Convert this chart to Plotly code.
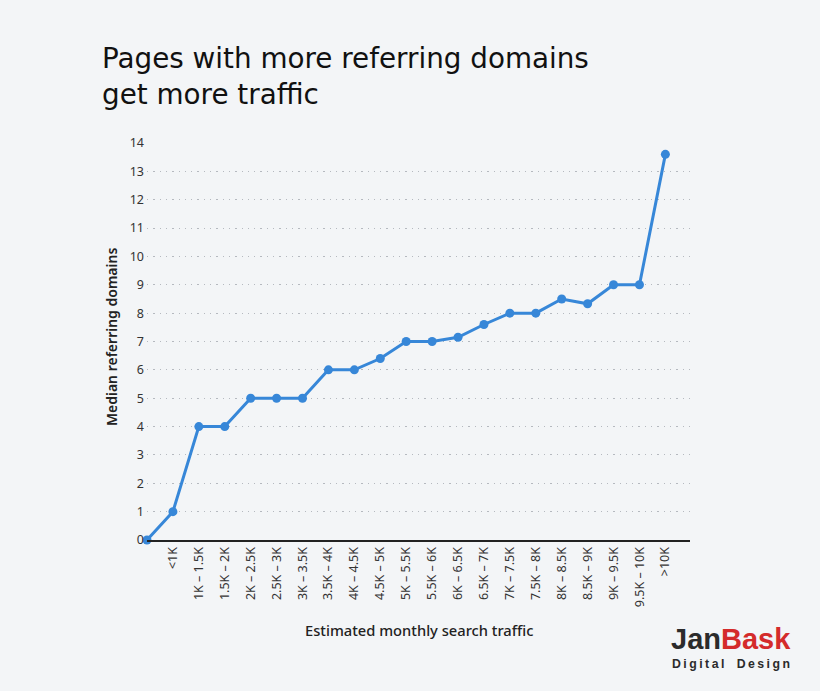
import plotly.graph_objects as go

categories = ["", "<1K", "1K – 1.5K", "1.5K – 2K", "2K – 2.5K", "2.5K – 3K", "3K – 3.5K",
              "3.5K – 4K", "4K – 4.5K", "4.5K – 5K", "5K – 5.5K", "5.5K – 6K", "6K – 6.5K",
              "6.5K – 7K", "7K – 7.5K", "7.5K – 8K", "8K – 8.5K", "8.5K – 9K", "9K – 9.5K",
              "9.5K – 10K", ">10K"]
median_domains = [0, 1, 4, 4, 5, 5, 5, 6, 6, 6.4, 7, 7, 7.15, 7.6, 8, 8, 8.5, 8.33, 9, 9, 13.6]
y_ticks = list(range(0, 15))

positions = list(range(len(categories)))

BG = "#f3f5f7"
LINE = "#3787d8"

fig = go.Figure()
fig.add_trace(go.Scatter(
    x=positions, y=median_domains, mode="lines+markers",
    line=dict(color=LINE, width=3),
    marker=dict(color=LINE, size=9),
    cliponaxis=False, hoverinfo="skip", showlegend=False,
))

L, R, T, B = 147, 130, 143, 151
W, H = 820, 691
pw, ph = W - L - R, H - T - B

def px(x):
    return (x - L) / pw

def py(y):
    return (H - B - y) / ph

fig.update_layout(
    width=W, height=H,
    margin=dict(l=L, r=R, t=T, b=B),
    paper_bgcolor=BG, plot_bgcolor=BG,
    font=dict(family="Noto Sans", color="#333333", size=12),
    xaxis=dict(
        range=[0, 20.95], tickmode="array", tickvals=positions[1:], ticktext=categories[1:],
        tickangle=-90, showgrid=False, zeroline=False,
        showline=True, linecolor="#222222", linewidth=2,
        ticks="", tickfont=dict(size=12.5, color="#333333"),
    ),
    yaxis=dict(
        range=[0, 14], tickmode="array", tickvals=y_ticks,
        showgrid=True, gridcolor="#b5b9bf", griddash="1.3px,5px", gridwidth=1.4,
        zeroline=False, showline=False, ticks="", ticklabelstandoff=2,
        tickfont=dict(size=12.5, color="#333333"),
    ),
    annotations=[
        dict(text="Pages with more referring domains<br>get more traffic",
             xref="paper", yref="paper", x=px(100), y=py(40), xanchor="left", yanchor="top",
             showarrow=False, align="left",
             font=dict(family="DejaVu Sans", size=27.8, color="#111111")),
        dict(text="Median referring domains", xref="paper", yref="paper",
             x=px(111), y=py(337), xanchor="center", yanchor="middle", textangle=-90,
             showarrow=False,
             font=dict(family="Noto Sans", size=14, color="#222222", weight=600)),
        dict(text="Estimated monthly search traffic", xref="paper", yref="paper",
             x=px(419), y=py(630), xanchor="center", yanchor="middle", showarrow=False,
             font=dict(family="Noto Sans", size=14.7, color="#222222", weight=500)),
        dict(text="<span style='color:#2b2b2b'>Jan</span><span style='color:#d42b2b'>Bask</span>",
             xref="paper", yref="paper", x=px(731), y=py(639), xanchor="center", yanchor="middle",
             showarrow=False,
             font=dict(family="Liberation Sans", size=29, weight=700)),
        dict(text="D\u2009i\u2009g\u2009i\u2009t\u2009a\u2009l\u2003D\u2009e\u2009s\u2009i\u2009g\u2009n",
             xref="paper", yref="paper", x=px(731), y=py(664), xanchor="center", yanchor="middle",
             showarrow=False,
             font=dict(family="Liberation Sans", size=12.3, color="#2b2b2b", weight=700)),
    ],
)

fig.write_html("out.html", config={"displayModeBar": False},
               post_script="document.body.style.margin='0';document.body.style.background='#f3f5f7';")
